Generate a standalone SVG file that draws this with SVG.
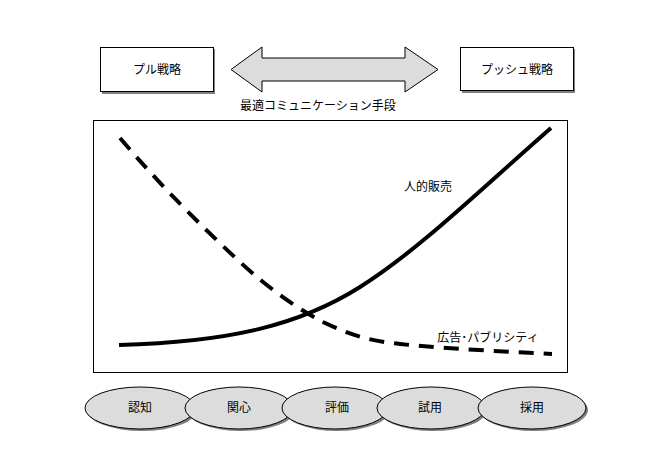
<svg xmlns="http://www.w3.org/2000/svg" width="657" height="457" viewBox="0 0 657 457">
<style>
text{font-family:"Liberation Sans","Noto Sans CJK JP",sans-serif;font-size:12px;fill:#000;text-anchor:middle}
.box{fill:#fff;stroke:#000;stroke-width:1}
.sh{fill:#808080}
.ell{fill:#dcdcdc;stroke:#000;stroke-width:1}
</style>
<rect width="657" height="457" fill="#fff"/>
<g id="pull">
<rect class="sh" x="102" y="49" width="113" height="45"/>
<rect class="box" x="100.5" y="47.5" width="113" height="44"/>
<text x="157" y="74">プル戦略</text>
</g>
<g id="push">
<rect class="sh" x="462" y="49" width="113" height="44"/>
<rect class="box" x="460.5" y="47.5" width="113" height="43"/>
<text x="517" y="74">プッシュ戦略</text>
</g>
<g id="arrow">
<polygon points="231,69.5 262,47 262,58 405,58 405,47 438,69.5 405,92 405,81 262,81 262,92" fill="#dcdcdc" stroke="#000" stroke-width="1"/>
<text x="318" y="110">最適コミュニケーション手段</text>
</g>
<g id="chart">
<rect x="93.5" y="120.5" width="474" height="252" fill="#fff" stroke="#000" stroke-width="1"/>
</g>
<g id="connectors">
<path d="M119,345 C230,342 300,325 360,287 S480,190 551,128" fill="none" stroke="#000" stroke-width="4"/>
<path d="M120,138 C160,185 200,225 240,262 C270,290 300,310 323,322 C350,335 370,341 400,344 C430,347 470,350 552,354" fill="none" stroke="#000" stroke-width="4" stroke-dasharray="15,10"/>
</g>
<g id="label-jinteki"><text x="428" y="191">人的販売</text></g>
<g id="label-koukoku"><text x="488" y="342">広告･パブリシティ</text></g>
<g id="e1"><ellipse class="sh" cx="142" cy="410" rx="55" ry="21"/><ellipse class="ell" cx="140" cy="408" rx="55" ry="21"/><text x="140" y="412">認知</text></g>
<g id="e2"><ellipse class="sh" cx="241" cy="410" rx="54" ry="21"/><ellipse class="ell" cx="239" cy="408" rx="54" ry="21"/><text x="239" y="412">関心</text></g>
<g id="e3"><ellipse class="sh" cx="337" cy="410" rx="53" ry="21"/><ellipse class="ell" cx="335" cy="408" rx="53" ry="21"/><text x="337" y="412">評価</text></g>
<g id="e4"><ellipse class="sh" cx="433" cy="410" rx="54" ry="21"/><ellipse class="ell" cx="431" cy="408" rx="54" ry="21"/><text x="430" y="412">試用</text></g>
<g id="e5"><ellipse class="sh" cx="534" cy="410" rx="54" ry="21"/><ellipse class="ell" cx="532" cy="408" rx="54" ry="21"/><text x="532" y="412">採用</text></g>
</svg>
